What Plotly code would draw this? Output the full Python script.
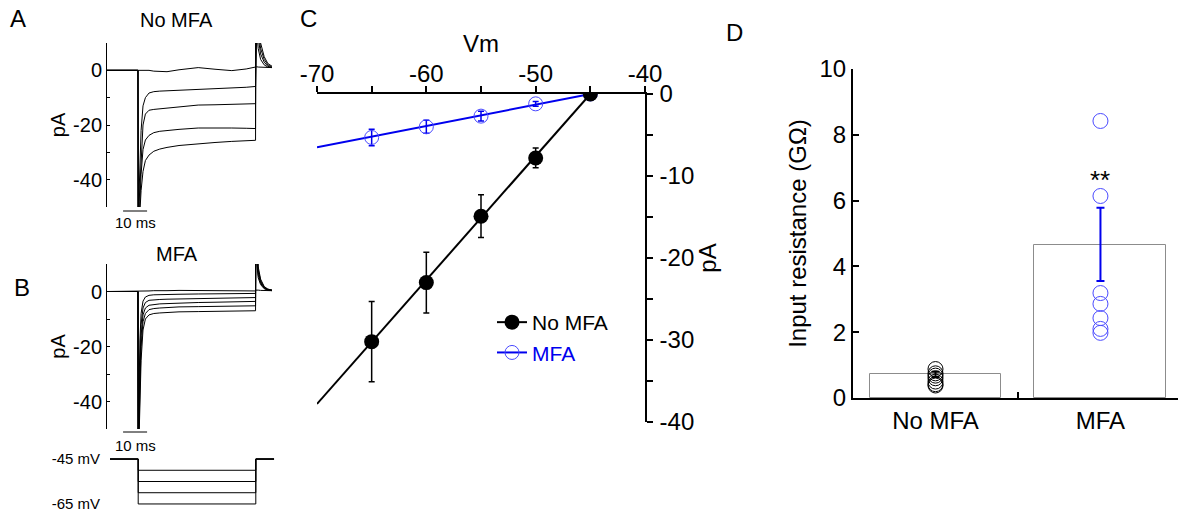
import plotly.graph_objects as go

W, H = 1178, 512
FONT = "Arial, Liberation Sans, sans-serif"

def X(px):
    return px / W

def Y(py):
    return 1 - py / H

# ---------------- data ----------------
# Panels A/B: sampled current traces (ms, pA)
t_ms = [0, 12.9, 13.0, 13.3, 13.7, 14.2, 15.0, 16.0, 17.5, 19.5, 22, 25, 30, 38, 45, 52, 58,
        61.9, 62.0, 62.4, 63, 64, 65.5, 67, 68.75]

A_traces = [
    [0, 0, 0, 0, 0, 0, 0, 0, 0, -0.3, -0.5, -0.5, 0.2, 1.0, 0.4, -0.1, 0.5, 1.3, 1.3, 1.3, 1.2, 1.2, 1.0, 1.0, 1.0],
    [0, 0, -55, -45, -32, -22, -13, -10, -8.3, -7.8, -7.6, -7.5, -7.2, -6.9, -6.8, -6.5, -6.2, -5.9, 12, 14, 8, 4, 2, 1.2, 1.0],
    [0, 0, -55, -50, -40, -30, -20, -16, -14.6, -14.3, -14.1, -14.0, -13.5, -12.7, -12.6, -12.4, -12.3, -12.2, 20, 18, 12, 6, 3, 1.5, 1.0],
    [0, 0, -55, -55, -48, -38, -29, -25.5, -23.8, -22.8, -22.3, -22.0, -21.6, -21.1, -21.0, -21.1, -21.2, -21.3, 25, 22, 15, 8, 4, 2, 1.2],
    [0, 0, -55, -55, -52, -44, -37, -33, -31, -29.6, -28.8, -28.2, -27.5, -26.8, -26.4, -26.0, -25.8, -25.6, 30, 26, 18, 10, 5, 2.5, 1.5],
]
B_traces = [
    [0, 0, 0, 0, 0, 0, 0, 0, 0.2, 0.3, 0.2, 0.3, 0.4, 0.3, 0.3, 0.2, 0.2, 0.2, 0.5, 0.6, 0.5, 0.4, 0.3, 0.3, 0.3],
    [0, 0, -55, -35, -18, -8, -3.5, -2, -1.4, -1.2, -1.1, -1.0, -1.0, -0.9, -0.8, -0.8, -0.7, -0.7, 14, 10, 5, 2.5, 1.0, 0.5, 0.3],
    [0, 0, -55, -42, -24, -12, -6, -4, -3.2, -3.0, -2.9, -2.8, -2.7, -2.6, -2.4, -2.3, -2.2, -2.2, 18, 12, 6, 3, 1.2, 0.6, 0.4],
    [0, 0, -55, -48, -30, -16, -8.5, -6, -5, -4.7, -4.5, -4.4, -4.2, -4.0, -3.9, -3.8, -3.7, -3.6, 22, 14, 7, 3.5, 1.4, 0.7, 0.4],
    [0, 0, -55, -52, -36, -20, -11, -8, -6.6, -6.2, -6.0, -5.8, -5.6, -5.5, -5.4, -5.3, -5.2, -5.2, 26, 16, 8, 4, 1.6, 0.8, 0.5],
    [0, 0, -55, -55, -42, -25, -14, -10, -8.5, -8.0, -7.8, -7.6, -7.4, -7.3, -7.2, -7.1, -7.0, -7.0, 30, 18, 9, 4.5, 1.8, 0.9, 0.5],
]
scalebar_ms = 10
trace_ticks = [0, -10, -20, -30, -40]
trace_ticktext = ["0", "", "-20", "", "-40"]

# Voltage protocol
hold_mV = -45
step_mV = [-50, -55, -60, -65]
proto_t = [1.25, 13.0, 13.0, 62.0, 62.0, 69.6]

# Panel C: I-V relation
Vm = [-65, -60, -55, -50, -45]
I_noMFA = [-30.2, -23.0, -14.9, -7.8, 0]
I_noMFA_err = [4.9, 3.7, 2.6, 1.2, 0.3]
I_MFA = [-5.3, -4.0, -2.7, -1.2, 0]
I_MFA_err = [1.0, 0.8, 0.6, 0.3, 0.1]
fit_Vm = [-70, -45]
fit_noMFA = [-37.8, 0]
fit_MFA = [-6.5, 0]
vm_ticks = [-70, -65, -60, -55, -50, -45, -40]
vm_ticktext = ["-70", "", "-60", "", "-50", "", "-40"]
pa_ticks = [0, -5, -10, -15, -20, -25, -30, -35, -40]
pa_ticktext = ["0", "", "-10", "", "-20", "", "-30", "", "-40"]

# Panel D: input resistance
groups = ["No MFA", "MFA"]
R_mean = [0.73, 4.65]
R_err = [0.08, 1.11]
R_noMFA_cells = [0.88, 0.75, 0.68, 0.60, 0.50, 0.42, 0.38]
R_MFA_cells = [8.42, 6.14, 3.19, 2.86, 2.43, 2.10, 1.98]

BLUE = "#0000ee"
BLUE_LIGHT = "#4a4aff"

fig = go.Figure()

# ---- A traces
for tr in A_traces:
    fig.add_trace(go.Scatter(x=t_ms, y=tr, mode="lines", line=dict(color="black", width=1),
                             xaxis="x", yaxis="y", showlegend=False, hoverinfo="skip"))
# ---- B traces
for tr in B_traces:
    fig.add_trace(go.Scatter(x=t_ms, y=tr, mode="lines", line=dict(color="black", width=1),
                             xaxis="x2", yaxis="y2", showlegend=False, hoverinfo="skip"))
# ---- protocol
for v in step_mV:
    fig.add_trace(go.Scatter(x=proto_t, y=[hold_mV, hold_mV, v, v, hold_mV, hold_mV], mode="lines",
                             line=dict(color="black", width=1), xaxis="x3", yaxis="y3",
                             showlegend=False, hoverinfo="skip"))

# ---- C
fig.add_trace(go.Scatter(x=fit_Vm, y=fit_MFA, mode="lines", line=dict(color=BLUE, width=2),
                         xaxis="x4", yaxis="y4", showlegend=False))
fig.add_trace(go.Scatter(x=Vm, y=I_MFA, mode="markers",
                         marker=dict(symbol="circle-open", size=14, color=BLUE_LIGHT, line=dict(width=1)),
                         error_y=dict(type="data", array=I_MFA_err, color=BLUE, thickness=1.5, width=3),
                         xaxis="x4", yaxis="y4", showlegend=False))
fig.add_trace(go.Scatter(x=fit_Vm, y=fit_noMFA, mode="lines", line=dict(color="black", width=2),
                         xaxis="x4", yaxis="y4", showlegend=False))
fig.add_trace(go.Scatter(x=Vm, y=I_noMFA, mode="markers",
                         marker=dict(symbol="circle", size=15, color="black"),
                         error_y=dict(type="data", array=I_noMFA_err, color="black", thickness=1.5, width=3),
                         xaxis="x4", yaxis="y4", showlegend=False))
# legend entries
fig.add_trace(go.Scatter(x=[None], y=[None], mode="lines+markers", name="No MFA",
                         line=dict(color="black", width=2), marker=dict(symbol="circle", size=15, color="black"),
                         xaxis="x4", yaxis="y4"))
fig.add_trace(go.Scatter(x=[None], y=[None], mode="lines+markers",
                         name="<span style='color:#0000ee'>MFA</span>",
                         line=dict(color=BLUE, width=2),
                         marker=dict(symbol="circle-open", size=14, color=BLUE_LIGHT, line=dict(width=1)),
                         xaxis="x4", yaxis="y4"))

# ---- D
fig.add_trace(go.Bar(x=[0, 1], y=R_mean, width=0.8,
                     marker=dict(color="white", line=dict(color="#8c8c8c", width=1)),
                     xaxis="x5", yaxis="y5", showlegend=False))
fig.add_trace(go.Scatter(x=[0] * len(R_noMFA_cells), y=R_noMFA_cells, mode="markers",
                         marker=dict(symbol="circle-open", size=15, color="black", line=dict(width=1)),
                         xaxis="x5", yaxis="y5", showlegend=False))
fig.add_trace(go.Scatter(x=[1] * len(R_MFA_cells), y=R_MFA_cells, mode="markers",
                         marker=dict(symbol="circle-open", size=15, color=BLUE_LIGHT, line=dict(width=1)),
                         xaxis="x5", yaxis="y5", showlegend=False))
fig.add_trace(go.Scatter(x=[0], y=[0.72], mode="markers", marker=dict(size=1, color="rgba(0,0,0,0)"),
                         error_y=dict(type="data", array=[R_err[0]], color="black", thickness=2, width=4),
                         xaxis="x5", yaxis="y5", showlegend=False))
fig.add_trace(go.Scatter(x=[1], y=[4.67], mode="markers", marker=dict(size=1, color="rgba(0,0,0,0)"),
                         error_y=dict(type="data", array=[R_err[1]], color=BLUE, thickness=2, width=4),
                         xaxis="x5", yaxis="y5", showlegend=False))

tf20 = dict(family=FONT, size=20, color="black")
tf24 = dict(family=FONT, size=24, color="black")

trace_y = dict(range=[-50, 10], showline=True, linecolor="black", linewidth=1, ticks="inside",
               ticklen=3, tickcolor="black", tickvals=trace_ticks,
               ticktext=trace_ticktext, tickfont=tf20, showgrid=False, zeroline=False,
               title=dict(text="pA", font=tf20, standoff=2))

fig.update_layout(
    width=W, height=H, margin=dict(l=0, r=0, t=0, b=0, pad=0, autoexpand=False),
    paper_bgcolor="white", plot_bgcolor="rgba(0,0,0,0)",
    font=dict(family=FONT, color="black"),
    xaxis=dict(domain=[X(107), X(272)], range=[0, 68.75], visible=False, anchor="y"),
    yaxis=dict(domain=[Y(207), Y(43)], anchor="x", **trace_y),
    xaxis2=dict(domain=[X(107), X(272)], range=[0, 68.75], visible=False, anchor="y2"),
    yaxis2=dict(domain=[Y(429), Y(264)], anchor="x2", **trace_y),
    xaxis3=dict(domain=[X(107), X(275)], range=[0, 70], visible=False, anchor="y3"),
    yaxis3=dict(domain=[Y(508), Y(455)], range=[-66.8, -43.2], anchor="x3", showline=False,
                ticks="", tickvals=[-45, -65], ticktext=["-45 mV", "-65 mV"],
                tickfont=dict(family=FONT, size=15, color="black"), ticklabelstandoff=6,
                ticklabeloverflow="allow", showgrid=False, zeroline=False),
    xaxis4=dict(domain=[X(317), X(645)], range=[-70, -40], side="top", anchor="y4",
                showline=True, linecolor="black", linewidth=1.5, ticks="outside", ticklen=6,
                tickwidth=1.5, tickcolor="black", tickvals=vm_ticks, ticktext=vm_ticktext,
                ticklabelstandoff=-5,
                tickfont=tf24, showgrid=False, zeroline=False,
                title=dict(text="Vm", font=tf24, standoff=0)),
    yaxis4=dict(domain=[Y(422), Y(94)], range=[-40, 0], side="right", anchor="x4",
                showline=True, linecolor="black", linewidth=1.5, ticks="outside", ticklen=6,
                tickwidth=1.5, tickcolor="black", tickvals=pa_ticks, ticktext=pa_ticktext,
                ticklabelstandoff=2,
                tickfont=tf24, showgrid=False, zeroline=False,
                title=dict(text="pA", font=tf24, standoff=0)),
    xaxis5=dict(domain=[X(853), X(1178)], range=[-0.5, 1.47], anchor="y5",
                showline=True, linecolor="black", linewidth=2, ticks="",
                tickvals=[0, 1], ticktext=groups, tickfont=tf24,
                minor=dict(tickvals=[0.5], ticks="inside", ticklen=6, tickwidth=2, tickcolor="black"),
                showgrid=False, zeroline=False),
    yaxis5=dict(domain=[Y(398), Y(69)], range=[0, 10], anchor="x5",
                showline=True, linecolor="black", linewidth=2, ticks="inside", ticklen=6,
                tickwidth=2, tickcolor="black", dtick=2, tickfont=tf24, showgrid=False, zeroline=False,
                title=dict(text="Input resistance (GΩ)", font=tf24, standoff=6)),
    showlegend=True,
    legend=dict(x=X(492), y=Y(302), xanchor="left", yanchor="top", bgcolor="rgba(0,0,0,0)",
                font=dict(family=FONT, size=21, color="black"), tracegroupgap=0, itemwidth=30),
    bargap=0,
)

# scale bars
fig.add_shape(type="line", xref="x", yref="paper", x0=6.7, x1=6.7 + scalebar_ms, y0=Y(211), y1=Y(211),
              line=dict(color="black", width=1))
fig.add_shape(type="line", xref="x2", yref="paper", x0=6.7, x1=6.7 + scalebar_ms, y0=Y(432), y1=Y(432),
              line=dict(color="black", width=1))

ann = [
    ("A", 18, 18, 24), ("B", 22, 287, 24), ("C", 308, 18, 24), ("D", 735, 32, 24),
    ("No MFA", 176, 20, 20), ("MFA", 177, 254, 20),
    ("10 ms", 135, 222, 15), ("10 ms", 135, 445, 15),
]
for txt, px, py, fs in ann:
    fig.add_annotation(text=txt, x=X(px), y=Y(py), xref="paper", yref="paper", showarrow=False,
                       xanchor="center", yanchor="middle", font=dict(family=FONT, size=fs, color="black"))
fig.add_annotation(text="**", x=1, y=6.63, xref="x5", yref="y5", showarrow=False,
                   font=dict(family=FONT, size=26, color="black"))

fig.write_html("out.html", config={"displayModeBar": False},
               post_script="document.body.style.margin='0';")
